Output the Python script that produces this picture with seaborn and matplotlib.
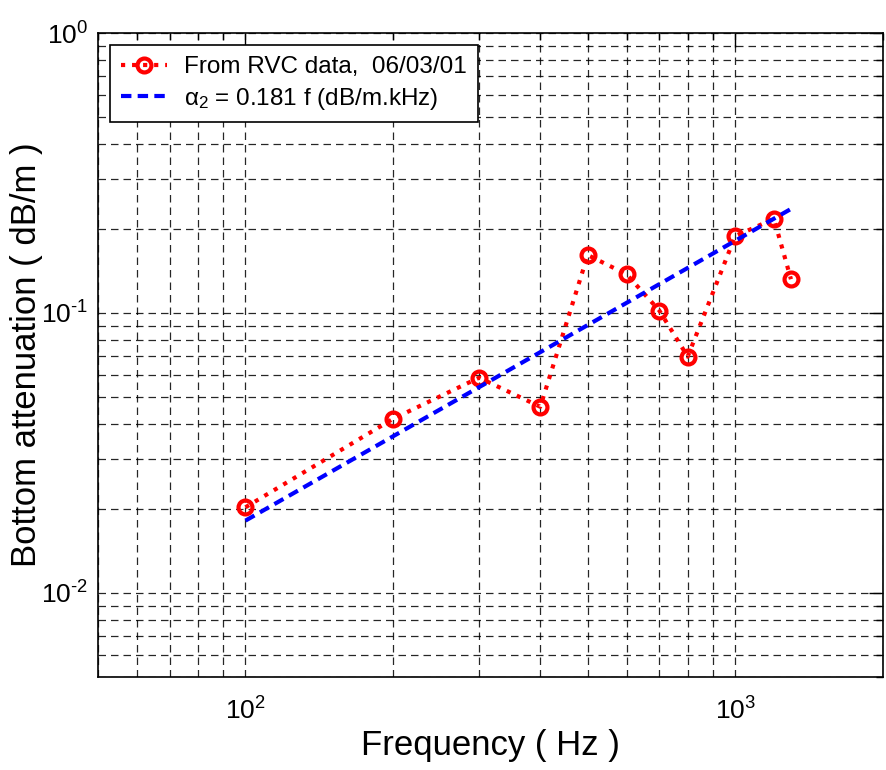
import numpy as np
import pandas as pd
import seaborn as sns
import matplotlib
matplotlib.use("Agg")
import matplotlib.pyplot as plt
from matplotlib.ticker import LogLocator, NullFormatter, FuncFormatter

freq_hz = [100, 200, 300, 400, 500, 600, 700, 800, 1000, 1200, 1300]
atten_db_m = [0.0202, 0.0418, 0.0587, 0.0462, 0.161, 0.1375, 0.102, 0.0698, 0.188, 0.217, 0.132]

# Linear fit alpha_2 = 0.181 f, drawn between its end points
fit_freq_hz = [100, 1300]
fit_atten_db_m = [0.0181, 0.2353]

data = pd.DataFrame({"Frequency": freq_hz, "Attenuation": atten_db_m})
fit = pd.DataFrame({"Frequency": fit_freq_hz, "Attenuation": fit_atten_db_m})

sns.set_theme(style="white")
plt.rcParams["font.family"] = ["Liberation Sans", "DejaVu Sans"]
plt.rcParams["mathtext.fontset"] = "custom"
plt.rcParams["mathtext.rm"] = "Liberation Sans"
plt.rcParams["mathtext.it"] = "Liberation Sans"
plt.rcParams["text.color"] = "black"
plt.rcParams["axes.labelcolor"] = "black"

fig = plt.figure(figsize=(8.87, 7.70), dpi=100)
ax = fig.add_axes([0.1105, 0.1208, 0.8845, 0.8362])

sns.lineplot(data=data, x="Frequency", y="Attenuation", ax=ax, color="red",
             linestyle=":", linewidth=3, marker="o", markersize=10,
             markerfacecolor="none", markeredgecolor="red", markeredgewidth=3,
             label="From RVC data,  06/03/01")
sns.lineplot(data=fit, x="Frequency", y="Attenuation", ax=ax, color="blue",
             linestyle=(0, (2.5, 1.5)), linewidth=3,
             label=r"$\alpha_2$ = 0.181 f (dB/m.kHz)")

ax.set_xscale("log")
ax.set_yscale("log")
ax.set_xlim(50, 2000)
ax.set_ylim(0.005, 1)

# MATLAB-like 10^n labels, short hyphen for negative exponents
def pow10(v, pos):
    e = int(round(np.log10(v)))
    exp = str(e).replace("-", "\u2010")
    return r"$\mathregular{10^{%s}}$" % exp

ax.xaxis.set_major_locator(LogLocator(base=10))
ax.yaxis.set_major_locator(LogLocator(base=10))
ax.xaxis.set_major_formatter(FuncFormatter(pow10))
ax.yaxis.set_major_formatter(FuncFormatter(pow10))
ax.xaxis.set_minor_locator(LogLocator(base=10, subs=np.arange(2, 10)))
ax.yaxis.set_minor_locator(LogLocator(base=10, subs=np.arange(2, 10)))
ax.xaxis.set_minor_formatter(NullFormatter())
ax.yaxis.set_minor_formatter(NullFormatter())

ax.grid(True, which="both", color="black", linestyle=(0, (6, 4)), linewidth=0.9, alpha=0.85)
ax.set_axisbelow(True)

ax.tick_params(which="both", direction="in", top=True, right=True, colors="black",
               labelsize=19)
ax.tick_params(which="major", length=10, width=1)
ax.tick_params(which="minor", length=5, width=1)
ax.tick_params(axis="x", which="major", pad=15)
ax.tick_params(axis="y", which="major", pad=7)
for s in ax.spines.values():
    s.set_color("black")
    s.set_linewidth(1.2)

ax.set_xlabel("Frequency ( Hz )", fontsize=25)
ax.set_ylabel("Bottom attenuation ( dB/m )", fontsize=25)
ax.xaxis.set_label_coords(0.5, -0.081)
ax.yaxis.set_label_coords(-0.07, 0.5)

leg = ax.legend(loc="upper left", fontsize=17.5, frameon=True, fancybox=False,
                edgecolor="black", framealpha=1, borderaxespad=0.5,
                handlelength=1.9, handletextpad=0.7, labelspacing=0.3,
                borderpad=0.45)
leg.get_frame().set_linewidth(1.2)

fig.savefig("out.png", dpi=100)
